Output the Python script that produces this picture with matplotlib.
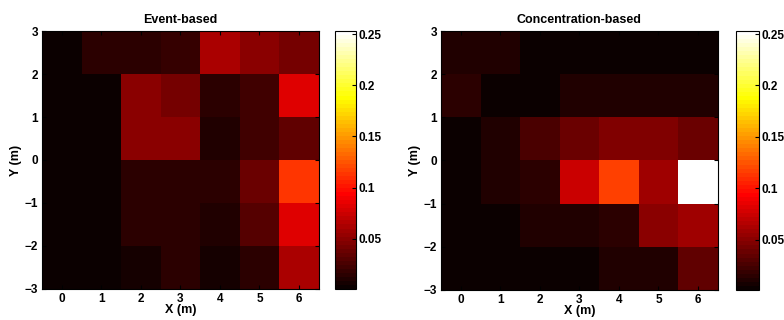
import numpy as np
import matplotlib
matplotlib.use('Agg')
import matplotlib.pyplot as plt
from matplotlib.colors import ListedColormap

# grid: x columns 0..6, y rows listed from top (2..3) to bottom (-3..-2)
x_ticks = [0, 1, 2, 3, 4, 5, 6]
y_ticks = [-3, -2, -1, 0, 1, 2, 3]
x_edges = [-0.5, 0.5, 1.5, 2.5, 3.5, 4.5, 5.5, 6.5]
y_edges = [3, 2, 1, 0, -1, -2, -3]

event_based = [
    [0.0036, 0.0166, 0.0166, 0.0185, 0.063, 0.050, 0.0427],
    [0.0036, 0.0036, 0.050, 0.0427, 0.0147, 0.0222, 0.080],
    [0.0036, 0.0036, 0.050, 0.050, 0.0092, 0.0222, 0.035],
    [0.0036, 0.0036, 0.0129, 0.0129, 0.0166, 0.037, 0.115],
    [0.0036, 0.0036, 0.0129, 0.0147, 0.011, 0.0296, 0.080],
    [0.0036, 0.0036, 0.0055, 0.0166, 0.0055, 0.0129, 0.063],
]
conc_based = [
    [0.0092, 0.0092, 0.0036, 0.0036, 0.0036, 0.0036, 0.0036],
    [0.0147, 0.0036, 0.0036, 0.011, 0.011, 0.011, 0.011],
    [0.0036, 0.011, 0.026, 0.039, 0.0445, 0.0445, 0.039],
    [0.0036, 0.011, 0.0166, 0.074, 0.119, 0.0575, 0.253],
    [0.0036, 0.0036, 0.011, 0.011, 0.0147, 0.052, 0.0575],
    [0.0036, 0.0036, 0.0036, 0.0036, 0.011, 0.011, 0.035],
]
titles = ['Event-based', 'Concentration-based']
cbar_ticks = [0.05, 0.1, 0.15, 0.2, 0.25]
cbar_labels = ['0.05', '0.1', '0.15', '0.2', '0.25']
vmin, vmax = 0.001, 0.253

# matlab style hot(64)
n = 64
k = np.arange(1, n + 1)
r = np.clip(k / 24.0, 0, 1)
g = np.clip((k - 24) / 24.0, 0, 1)
b = np.clip((k - 48) / 16.0, 0, 1)
hot64 = ListedColormap(np.column_stack([r, g, b]))

plt.rcParams['font.family'] = ['Liberation Sans', 'DejaVu Sans']
plt.rcParams['font.weight'] = 'bold'
plt.rcParams['font.size'] = 8.5

fig = plt.figure(figsize=(7.84, 3.2), dpi=100)

ax_pos = [[0.0536, 0.097, 0.353, 0.806], [0.5625, 0.094, 0.353, 0.809]]
cb_pos = [[0.427, 0.097, 0.027, 0.806], [0.939, 0.094, 0.029, 0.809]]

for i, data in enumerate([event_based, conc_based]):
    ax = fig.add_axes(ax_pos[i])
    mesh = ax.pcolormesh(x_edges, y_edges, np.array(data), cmap=hot64,
                         vmin=vmin, vmax=vmax)
    ax.set_xlim(-0.5, 6.5)
    ax.set_ylim(-3, 3)
    ax.set_xticks(x_ticks)
    ax.set_yticks(y_ticks)
    ax.tick_params(direction='in', top=True, right=True, length=3,
                   width=0.8, labelsize=8.5, pad=3)
    for lab in ax.get_xticklabels() + ax.get_yticklabels():
        lab.set_fontweight('bold')
    ax.set_xlabel('X (m)', fontweight='bold', fontsize=9, labelpad=-1)
    ax.set_ylabel('Y (m)', fontweight='bold', fontsize=9, labelpad=2)
    ax.set_title(titles[i], fontweight='bold', fontsize=9, pad=6)
    for s in ax.spines.values():
        s.set_linewidth(0.8)

    cax = fig.add_axes(cb_pos[i])
    cb = fig.colorbar(mesh, cax=cax, ticks=cbar_ticks)
    cb.ax.set_yticklabels(cbar_labels)
    cb.ax.tick_params(direction='in', length=3, width=0.8, labelsize=8.5, pad=2)
    for lab in cb.ax.get_yticklabels():
        lab.set_fontweight('bold')
    cb.outline.set_linewidth(0.8)

fig.savefig('out.png', dpi=100)
